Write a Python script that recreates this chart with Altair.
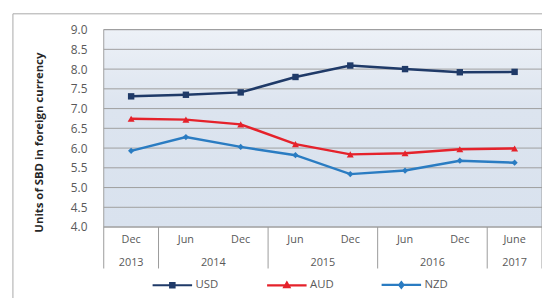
import altair as alt
import pandas as pd

# ---- data ----
months = ["Dec", "Jun", "Dec", "Jun", "Dec", "Jun", "Dec", "June"]
years = ["2013", "2014", "2015", "2016", "2017"]
year_centers = [0.5, 2.0, 4.0, 6.0, 7.5]
separators = [0, 1, 3, 5, 7, 8]
usd = [7.31, 7.35, 7.41, 7.80, 8.09, 8.00, 7.92, 7.93]
aud = [6.74, 6.72, 6.60, 6.10, 5.84, 5.87, 5.97, 5.99]
nzd = [5.93, 6.28, 6.03, 5.82, 5.34, 5.43, 5.68, 5.63]
series = ["USD", "AUD", "NZD"]
colors = ["#1F3A68", "#E5222B", "#2A7CC2"]
marker_shapes = ["square", "triangle-up", "diamond"]
marker_sizes = [42, 50, 40]
legend_shapes = [
    "M-1,0H1M-0.11,-0.11H0.11V0.11H-0.11Z",
    "M-1,0H1M0,-0.14L0.13,0.09H-0.13Z",
    "M-1,0H1M0,-0.14L0.11,0L0,0.14L-0.11,0Z",
]
y_ticks = [4.0, 4.5, 5.0, 5.5, 6.0, 6.5, 7.0, 7.5, 8.0, 8.5, 9.0]

W, H = 444, 200
FONT = "Open Sans"
LABEL_COLOR = "#595959"

rows = []
for name, vals in zip(series, [usd, aud, nzd]):
    for i, v in enumerate(vals):
        rows.append({"series": name, "pos": i + 0.5, "value": v, "month": months[i]})
df = pd.DataFrame(rows)
month_df = pd.DataFrame({"pos": [i + 0.5 for i in range(len(months))], "label": months})
year_df = pd.DataFrame({"pos": year_centers, "label": years})
sep_df = pd.DataFrame({"pos": separators})
grid_df = pd.DataFrame({"value": y_ticks})
one = pd.DataFrame({"a": [0]})

xscale = alt.Scale(domain=[0, 8], nice=False, zero=False)
yscale = alt.Scale(domain=[4, 9], nice=False, zero=False)

x_enc = alt.X("pos:Q", scale=xscale, axis=None)
y_axis = alt.Axis(values=y_ticks, format=".1f", grid=False, domain=False, ticks=False,
                  labelOverlap=False, labelPadding=17, labelColor=LABEL_COLOR,
                  labelFontSize=12, labelFont=FONT,
                  title="Units of SBD in foreign currency", titleFont=FONT,
                  titleFontSize=11.5, titleFontWeight="bold", titleColor="#262626",
                  titleAngle=-90, titleX=-65, titleY=114, titleAlign="center",
                  titleBaseline="middle")
y_enc = alt.Y("value:Q", scale=yscale, axis=y_axis)

border = alt.Chart(one).mark_rect(fill="transparent", stroke="#A8A8A8", strokeWidth=1).encode(
    x=alt.value(-92), x2=alt.value(W + 30), y=alt.value(-16), y2=alt.value(H + 100)
)

bg = alt.Chart(one).mark_rect(
    fill=alt.LinearGradient(
        gradient="linear",
        stops=[
            alt.GradientStop(color="#EDF1F7", offset=0),
            alt.GradientStop(color="#DCE4EF", offset=0.4),
            alt.GradientStop(color="#D9E2EE", offset=1),
        ],
        x1=0, x2=0, y1=0, y2=1,
    ),
    stroke="#A0A0A0",
    strokeWidth=1,
).encode(x=alt.value(0), x2=alt.value(W), y=alt.value(0), y2=alt.value(H))

grid = alt.Chart(grid_df).mark_rule(color="#9E9E9E", strokeWidth=1).encode(
    y=y_enc, x=alt.value(0), x2=alt.value(W),
)

series_layers = []
for name, col, shp, sz in zip(series, colors, marker_shapes, marker_sizes):
    base = alt.Chart(df).transform_filter(alt.datum.series == name)
    series_layers.append(
        base.mark_line(strokeWidth=2.5, color=col).encode(x=x_enc, y=y_enc)
    )
    series_layers.append(
        base.mark_point(filled=True, opacity=1, size=sz, shape=shp, color=col).encode(
            x=x_enc, y=y_enc
        )
    )

legend_layer = alt.Chart(df).mark_point(
    filled=True, size=1600, strokeWidth=2.2, opacity=0
).encode(
    x=x_enc,
    y=y_enc,
    fill=alt.Fill("series:N", scale=alt.Scale(domain=series, range=colors),
                  legend=alt.Legend(title=None)),
    stroke=alt.Stroke("series:N", scale=alt.Scale(domain=series, range=colors),
                      legend=alt.Legend(title=None)),
    shape=alt.Shape("series:N", scale=alt.Scale(domain=series, range=legend_shapes),
                    legend=alt.Legend(title=None, orient="none", direction="horizontal",
                                      legendX=48, legendY=237, columnPadding=44,
                                      labelOffset=2, labelFont=FONT, labelFontSize=11.5,
                                      labelColor=LABEL_COLOR, symbolStrokeWidth=2.2,
                                      symbolSize=1600, symbolOpacity=1)),
)

seps = alt.Chart(sep_df).mark_rule(color="#9A9A9A", strokeWidth=1).encode(
    x=x_enc, y=alt.value(H), y2=alt.value(H + 42)
)

month_text = alt.Chart(month_df).mark_text(
    font=FONT, fontSize=11, color=LABEL_COLOR, baseline="middle"
).encode(x=x_enc, y=alt.value(H + 13), text="label:N")

year_text = alt.Chart(year_df).mark_text(
    font=FONT, fontSize=11, color=LABEL_COLOR, baseline="middle"
).encode(x=x_enc, y=alt.value(H + 36), text="label:N")

chart = alt.layer(
    border, bg, grid, seps, month_text, year_text, *series_layers, legend_layer
).properties(
    width=W, height=H,
    autosize=alt.AutoSizeParams(type="none"),
    padding={"left": 97, "top": 20, "right": 0, "bottom": 70},
    background="white",
).configure_view(stroke=None)

chart.save("out.html", embed_options={"renderer": "svg", "actions": False})
